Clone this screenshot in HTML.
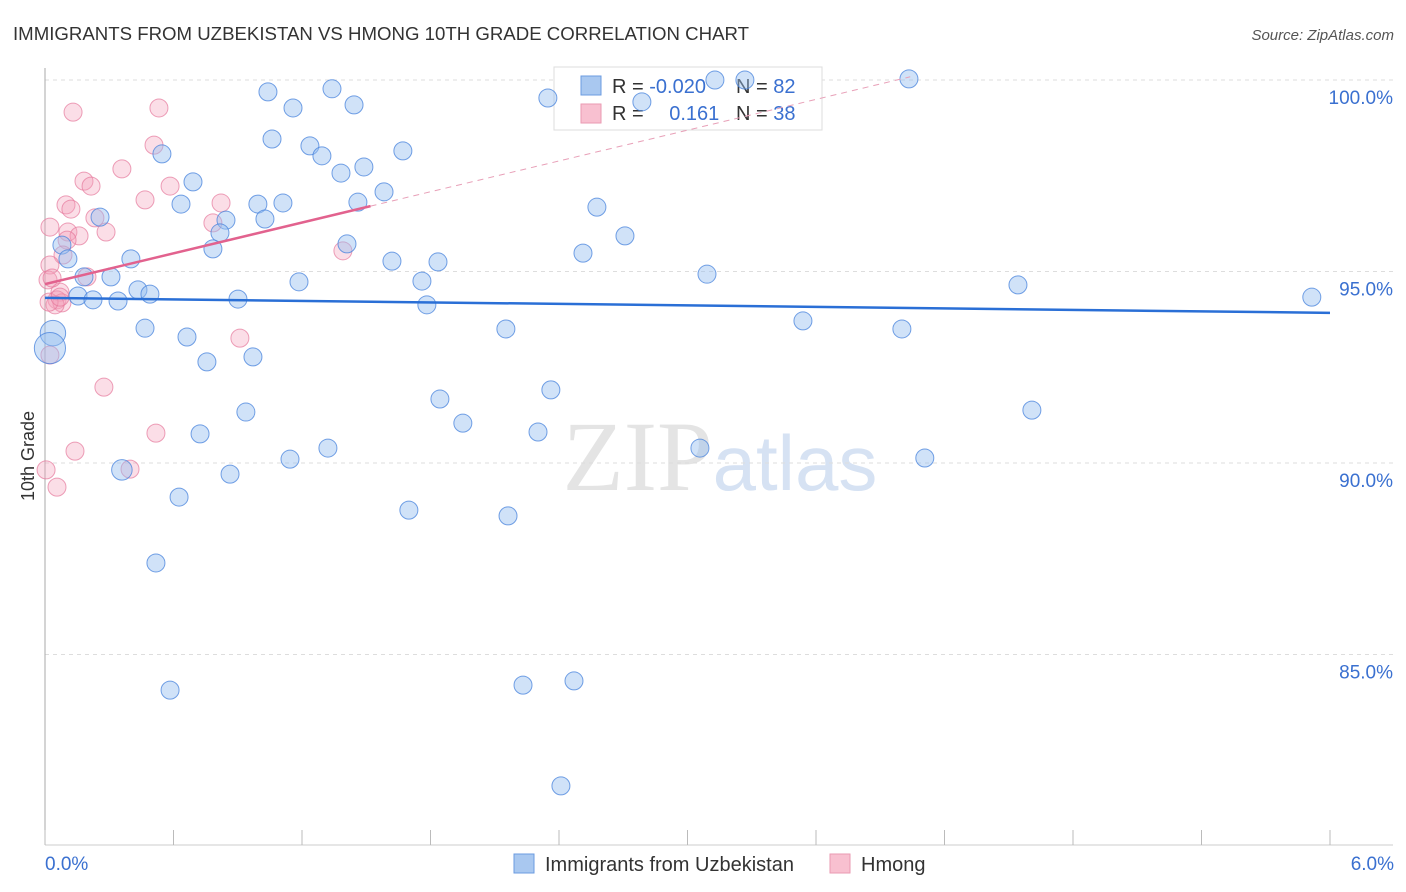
<!DOCTYPE html>
<html><head><meta charset="utf-8"><style>
body{margin:0;background:#fff;font-family:"Liberation Sans",sans-serif}
svg{display:block}
</style></head><body>
<svg id="chart" width="1406" height="892" viewBox="0 0 1406 892" xmlns="http://www.w3.org/2000/svg" font-family="Liberation Sans, sans-serif">
<text x="13" y="40" font-size="18" fill="#333" textLength="736" lengthAdjust="spacingAndGlyphs">IMMIGRANTS FROM UZBEKISTAN VS HMONG 10TH GRADE CORRELATION CHART</text>
<text x="1394" y="40" font-size="15" fill="#555" text-anchor="end" font-style="italic">Source: ZipAtlas.com</text>
<text x="720" y="490" font-size="100" fill="#e4e4e4" text-anchor="middle" font-family="Liberation Serif, serif">ZIP<tspan fill="#d6e2f3" font-family="Liberation Sans, sans-serif" font-size="78">atlas</tspan></text>
<g id="grid"></g>
<g id="axes"></g>
<g>
<rect x="554" y="67" width="268" height="63" fill="#fff" stroke="#ddd"/>
<rect x="581" y="76" width="20" height="19" fill="#a9c8f0" stroke="#6b9be0"/>
<rect x="581" y="104" width="20" height="19" fill="#f8c0d0" stroke="#ea9ab2"/>
<text x="612" y="93" font-size="20" fill="#333">R = <tspan fill="#3a70d0">-0.020</tspan></text>
<text x="736" y="93" font-size="20" fill="#333">N = <tspan fill="#3a70d0">82</tspan></text>
<text x="612" y="120" font-size="20" fill="#333">R = <tspan fill="#3a70d0" dx="20">0.161</tspan></text>
<text x="736" y="120" font-size="20" fill="#333">N = <tspan fill="#3a70d0">38</tspan></text>
</g>
<g id="marks"></g>
<g>
<rect x="514" y="854" width="20" height="19" fill="#a9c8f0" stroke="#6b9be0"/>
<text x="545" y="871" font-size="20" fill="#333">Immigrants from Uzbekistan</text>
<rect x="830" y="854" width="20" height="19" fill="#f8c0d0" stroke="#ea9ab2"/>
<text x="861" y="871" font-size="20" fill="#333">Hmong</text>
</g>
<text transform="translate(34,456) rotate(-90)" font-size="18" fill="#333" text-anchor="middle">10th Grade</text>
</svg>
<script>
const yTicks=[100,95,90,85];
const yTickLabels=["100.0%","95.0%","90.0%","85.0%"];
const xTickLabels=["0.0%","6.0%"];
const blueX=[1.041,1.158,1.340,1.443,2.348,2.787,3.128,3.268,4.034,0.546,1.060,1.237,1.293,1.382,1.489,1.671,0.691,0.635,0.994,1.111,0.845,1.027,1.583,1.461,2.577,0.257,0.817,0.784,0.079,1.410,2.708,0.107,0.401,1.620,1.835,2.512,0.308,0.182,1.186,1.760,3.091,4.543,5.915,0.434,0.490,0.154,0.224,0.341,0.901,1.783,0.467,0.663,2.152,3.539,4.001,0.037,0.023,0.756,0.971,2.362,1.844,0.938,4.608,1.951,0.724,2.302,1.321,3.058,1.144,4.108,0.359,0.864,0.626,1.699,2.162,0.518,0.584,2.232,2.470,2.409];
const blueY=[99.69,99.27,99.77,99.35,99.53,99.43,100.0,100.0,100.03,98.07,98.46,98.28,98.02,97.57,97.73,98.15,97.34,96.76,96.76,96.79,96.34,96.37,97.08,96.81,96.68,96.42,96.01,95.59,95.69,95.72,95.93,95.33,95.33,95.27,95.25,95.48,94.86,94.86,94.73,94.75,94.93,94.65,94.33,94.52,94.41,94.36,94.26,94.23,94.28,94.13,93.52,93.29,93.50,93.71,93.50,93.39,93.00,92.64,92.77,91.91,91.67,91.33,91.38,91.04,90.76,90.81,90.39,90.39,90.10,90.13,89.82,89.71,89.11,88.77,88.62,87.39,84.07,84.20,84.31,81.57];
const blueWeight=[1,1,1,1,1,1,1,1,1,1,1,1,1,1,1,1,1,1,1,1,1,1,1,1,1,1,1,1,1,1,1,1,1,1,1,1,1,1,1,1,1,1,1,1,1,1,1,1,1,1,1,1,1,1,1,2,3,1,1,1,1,1,1,1,1,1,1,1,1,1,1.3,1,1,1,1,1,1,1,1,1];
const pinkX=[0.131,0.532,0.509,0.359,0.182,0.215,0.584,0.467,0.098,0.121,0.023,0.233,0.285,0.822,0.784,0.107,0.159,0.103,0.084,0.023,0.014,0.196,0.070,0.056,0.079,0.047,0.910,1.391,0.023,0.275,0.518,0.140,0.397,0.005,0.056,0.019,0.070,0.033];
const pinkY=[99.16,99.27,98.30,97.68,97.36,97.23,97.23,96.87,96.74,96.63,96.16,96.40,96.03,96.79,96.27,96.03,95.93,95.82,95.43,95.17,94.78,94.86,94.46,94.26,94.18,94.13,93.26,95.54,92.82,91.98,90.78,90.31,89.84,89.82,89.37,94.20,94.33,94.83];
const blueTrend=[94.31,-0.065];
const pinkTrend=[94.67,1.34];
const X0=45,X1=1330,XMIN=0,XMAX=6;
const yScale=v=>80+(100-v)*38.3;
const xScale=v=>X0+(v-XMIN)/(XMAX-XMIN)*(X1-X0);
const NS="http://www.w3.org/2000/svg";
function mk(tag,attrs,parent){const e=document.createElementNS(NS,tag);for(const k in attrs)e.setAttribute(k,attrs[k]);parent.appendChild(e);return e;}
const grid=document.getElementById('grid'),axes=document.getElementById('axes'),marks=document.getElementById('marks');
yTicks.forEach((t,i)=>{
 const l=mk('line',{x1:X0,x2:1393,y1:yScale(t),y2:yScale(t),stroke:'#ddd','stroke-dasharray':'4,4'},grid);
 
 
 const tx=mk('text',{x:1393,y:yScale(t)+24,'font-size':19,fill:'#3a70d0','text-anchor':'end'},axes);
 tx.textContent=yTickLabels[i];
 
 
});
const ax=mk('line',{x1:X0,x2:X0,y1:68,y2:845,stroke:'#aaa'},axes);


const bx=mk('line',{x1:X0,x2:1393,y1:845,y2:845,stroke:'#ccc'},axes);


for(let i=0;i<=10;i++){
 const v=XMIN+i*(XMAX-XMIN)/10;
 const t=mk('line',{x1:xScale(v),x2:xScale(v),y1:830,y2:845,stroke:'#bbb'},axes);
 
 
}
[[XMIN,'start',xTickLabels[0]],[XMAX,'end',xTickLabels[1]]].forEach(([v,a,s])=>{
 const t=mk('text',{x:xScale(v)+(a==='start'?0:64),y:870,'font-size':19,fill:'#3a70d0','text-anchor':a},axes);
 t.textContent=s;
 
 
});
pinkX.forEach((x,i)=>{
 const c=mk('circle',{cx:xScale(x),cy:yScale(pinkY[i]),r:9,fill:'rgba(244,160,185,0.35)',stroke:'rgba(230,120,155,0.7)','stroke-width':1},marks);
 
 
});
blueX.forEach((x,i)=>{
 const c=mk('circle',{cx:xScale(x),cy:yScale(blueY[i]),r:9*Math.sqrt(blueWeight[i]),fill:'rgba(150,190,240,0.45)',stroke:'rgba(70,130,220,0.75)','stroke-width':1},marks);
 
 
});
const bl=mk('line',{x1:xScale(0),y1:yScale(blueTrend[0]),x2:xScale(6),y2:yScale(blueTrend[0]+blueTrend[1]*6),stroke:'#2a6fd6','stroke-width':2.5},marks);


const pe=1.52, pd=4.04;
const pl=mk('line',{x1:xScale(0),y1:yScale(pinkTrend[0]),x2:xScale(pe),y2:yScale(pinkTrend[0]+pinkTrend[1]*pe),stroke:'#e2628e','stroke-width':2.5},marks);


const pdl=mk('line',{x1:xScale(pe),y1:yScale(pinkTrend[0]+pinkTrend[1]*pe),x2:xScale(pd),y2:yScale(pinkTrend[0]+pinkTrend[1]*pd),stroke:'#e8a0b8','stroke-width':1,'stroke-dasharray':'6,5'},marks);


</script>
</body></html>
